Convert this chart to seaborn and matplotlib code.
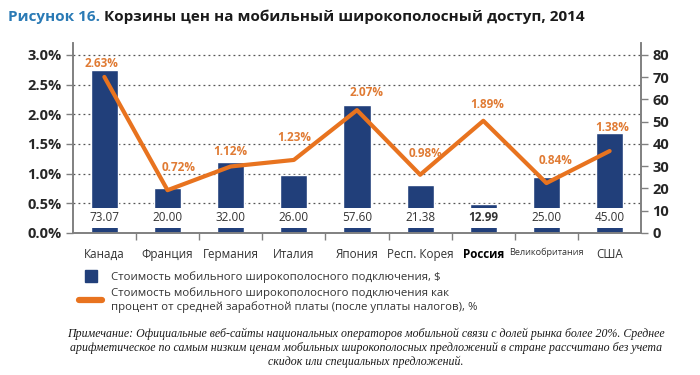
import numpy as np
import pandas as pd
import seaborn as sns
import matplotlib.pyplot as plt
from matplotlib.lines import Line2D
from matplotlib.ticker import FixedLocator

# Data
countries = ['Канада', 'Франция', 'Германия', 'Италия', 'Япония',
             'Респ. Корея', 'Россия', 'Великобритания', 'США']
cost_usd = [73.07, 20.00, 32.00, 26.00, 57.60, 21.38, 12.99, 25.00, 45.00]
pct_wage = [2.63, 0.72, 1.12, 1.23, 2.07, 0.98, 1.89, 0.84, 1.38]
pct_ticks = [0.0, 0.5, 1.0, 1.5, 2.0, 2.5, 3.0]
usd_ticks = [0, 10, 20, 30, 40, 50, 60, 70, 80]

df = pd.DataFrame({'country': countries, 'cost': cost_usd, 'pct': pct_wage})
df['pos'] = np.arange(len(df))

navy = '#213f7a'
orange = '#e8731f'
label_orange = '#e07b34'
grey = '#808080'

sns.set_theme(style="white")
plt.rcParams['font.family'] = ['Open Sans', 'DejaVu Sans']

fig = plt.figure(figsize=(7, 3.75), dpi=100)
ax_bar = fig.add_axes([0.104, 0.379, 0.812, 0.506])

# --- bars ($, right axis) ---
sns.barplot(data=df, x='country', y='cost', ax=ax_bar, color=navy,
            saturation=1, width=0.43, zorder=2)
ymax_pct = 3.2
ax_bar.set_ylim(0, ymax_pct / 3.0 * 80)
ax_bar.set_xlim(-0.5, len(df) - 0.5)
ax_bar.set_xlabel('')
ax_bar.set_ylabel('')

# --- line (%, left axis) ---
ax_line = ax_bar.twinx()
sns.lineplot(data=df, x='pos', y='pct', ax=ax_line, color=orange, linewidth=3, zorder=4)

# twinx() moves host ticks to the left, so set the sides afterwards
ax_bar.yaxis.tick_right()
ax_bar.yaxis.set_major_locator(FixedLocator(usd_ticks))
# dotted grid follows the % ticks, drawn under the bars
ax_bar.yaxis.remove_overlapping_locs = False
ax_bar.yaxis.set_minor_locator(FixedLocator([t / 3.0 * 80 for t in pct_ticks[1:]]))
ax_bar.grid(which='minor', axis='y', linestyle=(0, (1.5, 2.5)), color='#555555', linewidth=0.9)
ax_bar.grid(which='major', axis='y', visible=False)
ax_bar.set_axisbelow(True)
ax_bar.tick_params(axis='y', which='major', direction='out', length=5, width=1,
                   color=grey, labelsize=10.5, pad=3, right=True, left=False,
                   labelright=True, labelleft=False)
ax_bar.tick_params(axis='y', which='minor', length=0)
for lab in ax_bar.get_yticklabels():
    lab.set_fontweight('bold')

ax_bar.set_xticks(df['pos'])
ax_bar.set_xticklabels(countries)
ax_bar.xaxis.set_minor_locator(FixedLocator(np.arange(0.5, len(df) - 1, 1)))
ax_bar.tick_params(axis='x', which='major', length=0, pad=11, labelsize=8.4, labelcolor='#333333')
ax_bar.tick_params(axis='x', which='minor', bottom=True, direction='out', length=5, width=1, color=grey)
for lab in ax_bar.get_xticklabels():
    if lab.get_text() == 'Россия':
        lab.set_fontweight('bold')
        lab.set_color('black')
    elif lab.get_text() == 'Великобритания':
        lab.set_fontsize(6.6)

ax_line.set_ylim(0, ymax_pct)
ax_line.yaxis.set_ticks_position('left')
ax_line.yaxis.set_label_position('left')
ax_line.set_yticks(pct_ticks)
ax_line.set_yticklabels([f"{t:.1f}%" for t in pct_ticks])
ax_line.tick_params(axis='y', direction='out', length=5, width=1, color=grey,
                    labelsize=10.5, pad=3, left=True, right=False,
                    labelleft=True, labelright=False)
for lab in ax_line.get_yticklabels():
    lab.set_fontweight('bold')
ax_line.set_xlabel('')
ax_line.set_ylabel('')
ax_line.grid(False)

for a in (ax_bar, ax_line):
    for side in ['left', 'right', 'bottom']:
        a.spines[side].set_color(grey)
        a.spines[side].set_linewidth(1.2)
    a.spines['top'].set_visible(False)

# value labels on bars
for _, row in df.iterrows():
    ax_bar.text(row['pos'], 6.7, f"{row['cost']:.2f}", ha='center', va='center',
                fontsize=8.5, color='#333333',
                fontweight='bold' if row['country'] == 'Россия' else 'normal',
                bbox=dict(boxstyle='square,pad=0.3', fc='white', ec='none'), zorder=3)

# percent labels, nudged off the line (offsets in points)
label_offsets = [(-2, 10), (8, 16.5), (0, 11), (0, 16), (7, 13),
                 (3.5, 15), (3, 12), (6.5, 16), (2, 17)]
for (_, row), (dx, dy) in zip(df.iterrows(), label_offsets):
    ax_line.annotate(f"{row['pct']:.2f}%", (row['pos'], row['pct']),
                     xytext=(dx, dy), textcoords='offset points',
                     ha='center', va='center', fontsize=8.5,
                     color=label_orange, fontweight='bold', zorder=5)

# --- legend ---
handles = [Line2D([], [], marker='s', linestyle='none', color=navy, markersize=9),
           Line2D([], [], color=orange, linewidth=4.5)]
labels = ['Стоимость мобильного широкополосного подключения, $',
          'Стоимость мобильного широкополосного подключения как\n'
          'процент от средней заработной платы (после уплаты налогов), %']
fig.legend(handles, labels, loc='upper left', bbox_to_anchor=(0.1, 0.3),
           frameon=False, fontsize=8.2, handlelength=2.0, handletextpad=0.8,
           labelspacing=0.35, labelcolor='#333333', borderpad=0.3)

# --- title ---
t1 = fig.text(0.011, 0.955, 'Рисунок 16.', fontsize=11, fontweight='bold',
              color='#2a7ab5', va='center', ha='left')
fig.canvas.draw()
bb = t1.get_window_extent()
x2 = (bb.x1 + 4) / fig.bbox.width
fig.text(x2, 0.955, 'Корзины цен на мобильный широкополосный доступ, 2014',
         fontsize=11, fontweight='bold', color='#1a1a1a', va='center', ha='left')

# --- note ---
note = ('Примечание: Официальные веб-сайты национальных операторов мобильной связи с долей рынка более 20%. Среднее\n'
        'арифметическое по самым низким ценам мобильных широкополосных предложений в стране рассчитано без учета\n'
        'скидок или специальных предложений.')
fig.text(0.523, 0.073, note, ha='center', va='center', fontsize=8.6, style='italic',
         family=['Liberation Serif', 'DejaVu Serif'], color='#1a1a1a', linespacing=1.2)

fig.savefig('out.png', dpi=100)
